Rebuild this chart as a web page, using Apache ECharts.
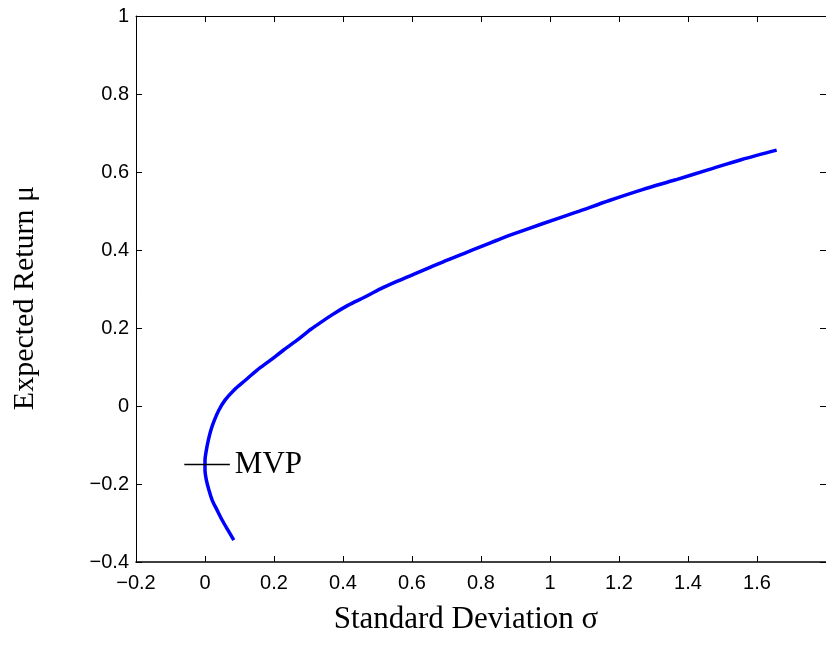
<!DOCTYPE html>
<html>
<head>
<meta charset="utf-8">
<script src="https://cdn.jsdelivr.net/npm/echarts@6/dist/echarts.min.js"></script>
<style>
html,body{margin:0;padding:0;background:#fff;}
#chart{width:826px;height:651px;}
</style>
</head>
<body>
<div id="chart"></div>
<script>
// Frontier points (sigma, mu), in order along the curve
const sigma = [0.0835, 0.067, 0.050, 0.035, 0.021, 0.0115, 0.004, 0.000, 0.000, 0.004, 0.0095, 0.017, 0.027, 0.040, 0.058, 0.083, 0.117, 0.151, 0.189, 0.227, 0.266, 0.297, 0.309, 0.367, 0.414, 0.462, 0.510, 0.558, 0.606, 0.654, 0.702, 0.750, 0.798, 0.846, 0.884, 0.980, 1.076, 1.172, 1.268, 1.364, 1.460, 1.556, 1.657];
const mu    = [-0.344, -0.319, -0.293, -0.267, -0.242, -0.216, -0.190, -0.165, -0.139, -0.113, -0.088, -0.062, -0.037, -0.011, 0.015, 0.040, 0.066, 0.092, 0.117, 0.143, 0.168, 0.190, 0.198, 0.233, 0.258, 0.279, 0.301, 0.320, 0.338, 0.356, 0.374, 0.391, 0.408, 0.425, 0.438, 0.468, 0.497, 0.527, 0.555, 0.580, 0.606, 0.632, 0.656];
// MVP marker
const mvpX = [-0.06, 0.072];
const mvpY = -0.15;
const mvpLabel = 'MVP';
// Axes
const xMin = -0.2, xMax = 1.8, xStep = 0.2;
const yMin = -0.4, yMax = 1, yStep = 0.2;
const xTitle = 'Standard Deviation \u03c3';
const yTitle = 'Expected Return \u03bc';

const fmt = v => {
  let s = String(Math.round(v * 1000) / 1000);
  return s.replace('-', '\u2212');
};

const chart = echarts.init(document.getElementById('chart'), null, {renderer: 'canvas'});
const lineCol = '#000';
const tickFont = {fontFamily: 'Liberation Sans, Arial, sans-serif', fontSize: 20, color: '#000'};

const curve = sigma.map((s, i) => [s, mu[i]]);
const mvp = mvpX.map(x => [x, mvpY]);

chart.setOption({
  animation: false,
  backgroundColor: '#fff',
  grid: {left: 136, top: 16, width: 695, height: 546, containLabel: false},
  xAxis: [
    {
      type: 'value', min: xMin, max: xMax, interval: xStep, position: 'bottom',
      axisLine: {show: true, onZero: false, lineStyle: {color: lineCol, width: 1.6}},
      axisTick: {show: true, inside: true, length: 6, lineStyle: {color: lineCol, width: 1}},
      axisLabel: Object.assign({margin: 11, showMaxLabel: false, formatter: fmt}, tickFont),
      splitLine: {show: false}
    },
    {
      type: 'value', min: xMin, max: xMax, interval: xStep, position: 'top',
      axisLine: {show: true, onZero: false, lineStyle: {color: lineCol, width: 1}},
      axisTick: {show: true, inside: true, length: 6, lineStyle: {color: lineCol, width: 1}},
      axisLabel: {show: false},
      splitLine: {show: false}
    }
  ],
  yAxis: [
    {
      type: 'value', min: yMin, max: yMax, interval: yStep, position: 'left',
      axisLine: {show: true, onZero: false, lineStyle: {color: lineCol, width: 1}},
      axisTick: {show: true, inside: true, length: 6, lineStyle: {color: lineCol, width: 1}},
      axisLabel: Object.assign({margin: 7, formatter: fmt}, tickFont),
      splitLine: {show: false}
    },
    {
      type: 'value', min: yMin, max: yMax, interval: yStep, position: 'right',
      axisLine: {show: true, onZero: false, lineStyle: {color: lineCol, width: 1}},
      axisTick: {show: true, inside: true, length: 6, lineStyle: {color: lineCol, width: 1}},
      axisLabel: {show: false},
      splitLine: {show: false}
    }
  ],
  series: [
    {
      type: 'line', data: curve, smooth: 0.3, showSymbol: false, symbol: 'none',
      lineStyle: {color: '#0000ff', width: 3.5}, silent: true, z: 3
    },
    {
      type: 'line', data: mvp, showSymbol: false, symbol: 'none',
      lineStyle: {color: '#000', width: 1.4}, silent: true, z: 4,
      endLabel: {
        show: true, formatter: mvpLabel, distance: 5,
        fontFamily: 'Liberation Serif, Times New Roman, serif', fontSize: 31, color: '#000'
      }
    }
  ],
  graphic: [
    {
      type: 'text', x: 466, y: 620,
      style: {text: xTitle, fontFamily: 'Liberation Serif, Times New Roman, serif', fontSize: 31, fill: '#000', textAlign: 'center', textVerticalAlign: 'middle'}
    },
    {
      type: 'text', x: 25, y: 298, rotation: Math.PI / 2,
      style: {text: yTitle, fontFamily: 'Liberation Serif, Times New Roman, serif', fontSize: 30, fill: '#000', textAlign: 'center', textVerticalAlign: 'middle'}
    }
  ]
});
</script>
</body>
</html>
